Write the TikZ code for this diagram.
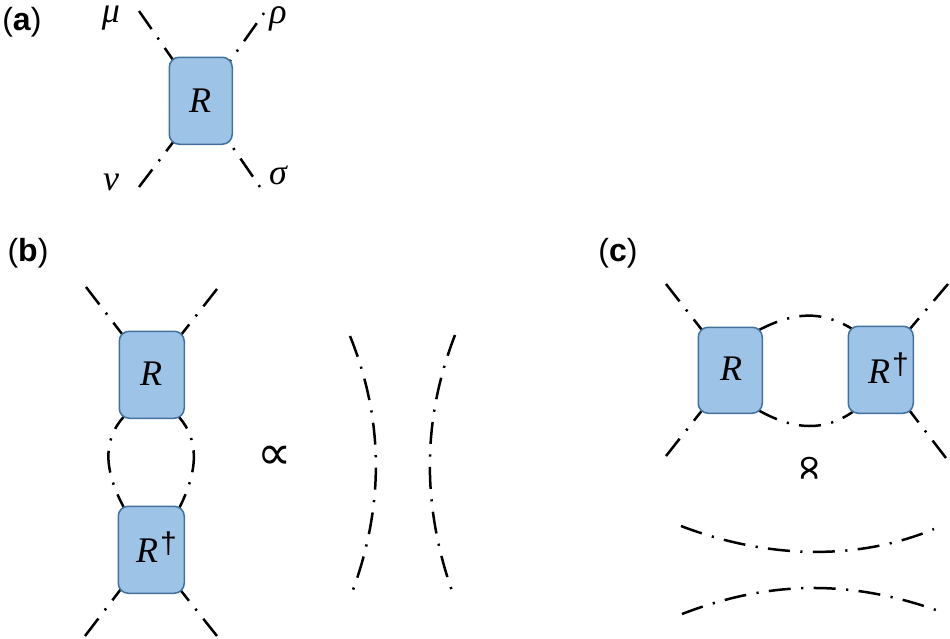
\documentclass[tikz,border=0pt]{standalone}
\usepackage{fontspec}
\setmainfont{Liberation Sans}
\newfontfamily\symf{Liberation Serif}
\newfontfamily\relf{DejaVu Sans}
\usetikzlibrary{backgrounds}
\newcommand{\dgr}{\raisebox{9pt}{\fontsize{30}{32}\selectfont\normalfont †}}
\tikzset{
  box/.style={draw=boxline,fill=boxfill,line width=1.5pt,rounded corners=10pt,inner sep=0pt,anchor=north west},
  sym/.style={font=\fontsize{36}{40}\selectfont\symf\itshape,inner sep=0pt},
  greek/.style={font=\fontsize{36}{40}\selectfont\symf\itshape,inner sep=0pt},
  panel/.style={font=\fontsize{32}{36}\selectfont,inner sep=0pt},
  rel/.style={font=\fontsize{48}{52}\selectfont\relf,inner sep=0pt},
  relr/.style={font=\fontsize{44}{48}\selectfont\relf,inner sep=0pt,rotate=-90},
  dd/.style={line width=2.5pt,black,dash pattern=on 22pt off 10.5pt on 2.2pt off 10.3pt},
  ddot/.style={dd,dash phase=32.5pt},
}
\definecolor{boxfill}{HTML}{9DC3E6}
\definecolor{boxline}{HTML}{41719C}
\begin{document}
\begin{tikzpicture}[x=1pt,y=-1pt]
\useasboundingbox (0,0) rectangle (950,638);
% boxes
\node[box,minimum width=63pt,minimum height=87pt] (Ra) at (168.5,56.5) {};
\node[box,minimum width=65pt,minimum height=87pt] (Rb) at (118.5,330.5) {};
\node[box,minimum width=66pt,minimum height=87pt] (Rbd) at (117.5,505.5) {};
\node[box,minimum width=64pt,minimum height=86pt] (Rc) at (697.5,326.5) {};
\node[box,minimum width=65pt,minimum height=87pt] (Rcd) at (847.5,325.5) {};
% box labels
\node[sym] (tRa) at (200,101) {R};
\node[sym] (tRb) at (151,374) {R};
\node[sym,anchor=base west] (tRbd) at (136,562) {R\kern2pt\dgr};
\node[sym] (tRc) at (731,369) {R};
\node[sym,anchor=base west] (tRcd) at (868,383) {R\kern2pt\dgr};
% index labels
\node[greek] (mu) at (111,18) {μ};
\node[greek] (rho) at (278,19) {ρ};
\node[greek] (nu) at (111,182) {ν};
\node[greek] (sigma) at (278,175) {σ};
% panel labels
\node[panel] (pa) at (22,22) {(\textbf{a})};
\node[panel] (pb) at (28,253) {(\textbf{b})};
\node[panel] (pc) at (618,253) {(\textbf{c})};
% relations
\node[rel] (prop) at (275,458) {∝};
\node[relr] (propr) at (807,468) {∝};
% free ends
\coordinate (amu) at (139,11);
\coordinate (arho) at (264,13);
\coordinate (anu) at (139,187);
\coordinate (asig) at (260,187);
\coordinate (b1) at (86,287);
\coordinate (b2) at (217,289);
\coordinate (b3) at (85,636);
\coordinate (b4) at (217,636);
\coordinate (c1) at (666,284);
\coordinate (c2) at (948,284);
\coordinate (c3) at (666,456);
\coordinate (c4) at (946,458);
\coordinate (l1s) at (350,336);
\coordinate (l1e) at (353,590);
\coordinate (l2s) at (455,335);
\coordinate (l2e) at (452,591);
\coordinate (h1s) at (681,526);
\coordinate (h1e) at (934,529);
\coordinate (h2s) at (682,614);
\coordinate (h2e) at (936,610);
\begin{scope}[on background layer]
% panel a
\draw[dd] (amu) -- ([shift={(7,7)}]Ra.north west);
\draw[ddot] (arho) -- ([shift={(-4,6)}]Ra.north east);
\draw[dd] (anu) -- ([shift={(7,-6)}]Ra.south west);
\draw[ddot] (asig) -- ([shift={(-6,-6)}]Ra.south east);
% panel b
\draw[dd] (b1) -- ([shift={(7,8)}]Rb.north west);
\draw[dd] (b2) -- ([shift={(-6,7)}]Rb.north east);
\draw[dd] (b3) -- ([shift={(5,-7)}]Rbd.south west);
\draw[dd] (b4) -- ([shift={(-7,-7)}]Rbd.south east);
\draw[dd,dash phase=4pt] ([shift={(8,5)}]Rbd.north west) .. controls (103,470) and (103,440) .. ([shift={(5,-2)}]Rb.south west);
\draw[dd,dash phase=4pt] ([shift={(-7,5)}]Rbd.north east) .. controls (199,470) and (199,440) .. ([shift={(-6,-2)}]Rb.south east);
\draw[dd] (l1s) .. controls (384,420) and (384,505) .. (l1e);
\draw[dd] (l2s) .. controls (422,420) and (422,505) .. (l2e);
% panel c
\draw[dd] (c1) -- ([shift={(8,8)}]Rc.north west);
\draw[dd] (c3) -- ([shift={(8,-8)}]Rc.south west);
\draw[dd] (c2) -- ([shift={(-8,8)}]Rcd.north east);
\draw[dd] (c4) -- ([shift={(-8,-8)}]Rcd.south east);
\draw[dd,dash phase=1pt] ([shift={(-5,4)}]Rc.north east) .. controls (795,311) and (822,311) .. ([shift={(4,3)}]Rcd.north west);
\draw[dd,dash phase=1pt] ([shift={(-5,-4)}]Rc.south east) .. controls (795,431) and (825,431) .. ([shift={(5,-2)}]Rcd.south west);
\draw[dd] (h1s) .. controls (770,560) and (860,560) .. (h1e);
\draw[dd] (h2s) .. controls (770,580) and (850,580) .. (h2e);
\end{scope}
\end{tikzpicture}
\end{document}
